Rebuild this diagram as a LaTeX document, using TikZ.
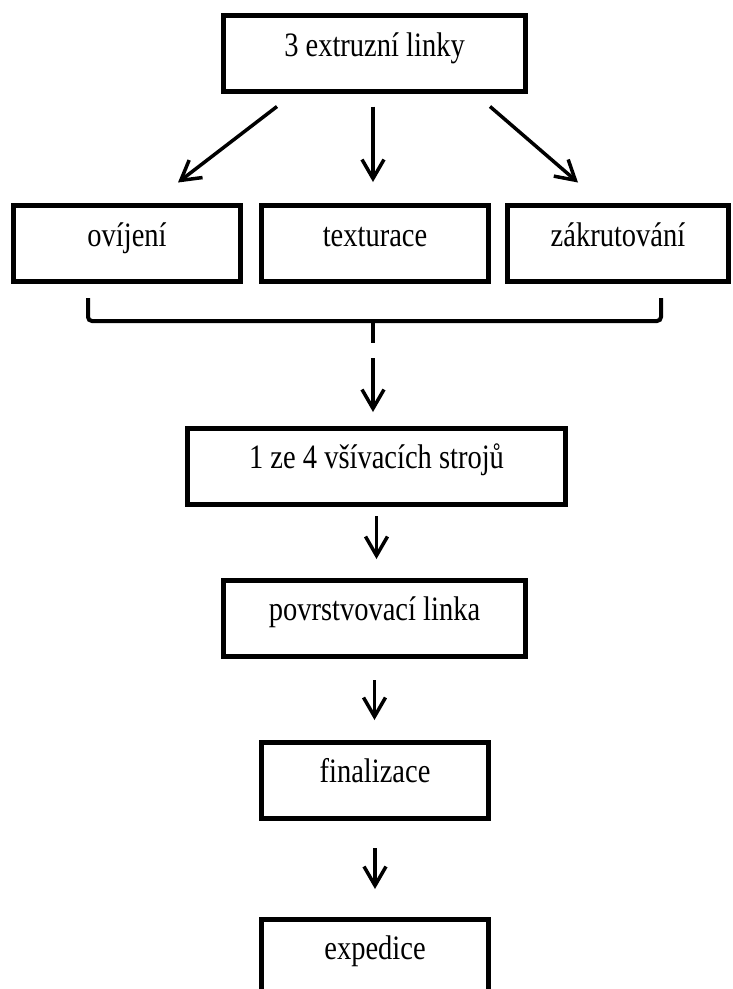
\documentclass[tikz,border=0pt]{standalone}
\usepackage{fontspec}
\usepackage{graphicx}
\setmainfont{Liberation Serif}
\usetikzlibrary{arrows.meta}
\newcommand{\lbl}[1]{\scalebox{1}[1.2]{#1}}

\begin{document}
\begin{tikzpicture}[x=1pt, y=-1pt,
		box/.style={draw, rectangle, line width=5pt, minimum height=76pt, text height=15pt, text depth=10pt, font=\fontsize{28.5}{34}\selectfont},
		arr/.style={line width=3.5pt, -{Straight Barb[length=19pt, width=22pt]}},
		brace/.style={line width=4pt, rounded corners=4pt}]
	\clip (0, 0) rectangle (732, 989);
	\node[box, minimum width=302pt] (extr) at (374.5, 53.5) {\lbl{3 extruzní linky}};
	\node[box, minimum width=227pt] (ovij) at (127, 243.5) {\lbl{ovíjení}};
	\node[box, minimum width=227pt] (textu) at (375, 243.5) {\lbl{texturace}};
	\node[box, minimum width=221pt] (zakr) at (618, 243.5) {\lbl{zákrutování}};
	\node[box, minimum width=378pt] (stroj) at (376.5, 466) {\lbl{1 ze 4 všívacích strojů}};
	\node[box, minimum width=302pt] (povr) at (374.5, 618) {\lbl{povrstvovací linka}};
	\node[box, minimum width=227pt] (final) at (375, 780) {\lbl{finalizace}};
	\node[box, minimum width=227pt] (exped) at (375, 957) {\lbl{expedice}};
	\draw[arr] ([xshift=-97.5pt, yshift=-12.5pt]extr.south) -- ([xshift=51pt, yshift=20.5pt]ovij.north);
	\draw[arr] ([xshift=-1.5pt, yshift=-12.5pt]extr.south) -- ([xshift=-2pt, yshift=21pt]textu.north);
	\draw[arr] ([xshift=115.5pt, yshift=-12.5pt]extr.south) -- ([xshift=-40pt, yshift=20.5pt]zakr.north);
	\coordinate (bl) at (88, 298);
	\coordinate (br) at (661, 298);
	\coordinate (bm) at (373, 321);
	\coordinate (btip) at (373, 343);
	\draw[brace] (bl) -- (bl |- bm) -- (br |- bm) -- (br);
	\draw[line width=4pt] (bm) -- (btip);
	\draw[arr, shorten <=15pt, shorten >=13.5pt] (btip) -- (btip |- stroj.north);
	\draw[arr, shorten <=9.5pt, shorten >=18.5pt] (stroj.south) -- (stroj.south |- povr.north);
	\draw[arr, shorten <=21.5pt, shorten >=19.5pt] (povr.south) -- (povr.south |- final.north);
	\draw[arr, shorten <=27.5pt, shorten >=27.5pt] (final.south) -- (final.south |- exped.north);
\end{tikzpicture}
\end{document}
